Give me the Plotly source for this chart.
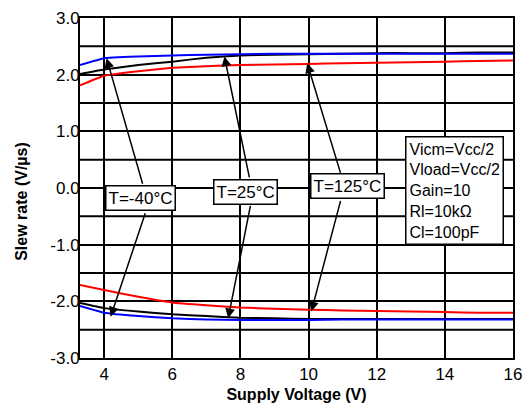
import plotly.graph_objects as go

# Supply voltage sample points (V)
vcc = [3.29, 4, 5, 6, 7, 8, 9, 10, 11, 12, 13, 14, 15, 16]

# Rising slew rate (V/us)
sr_pos_m40 = [2.17, 2.29, 2.32, 2.34, 2.35, 2.36, 2.37, 2.37, 2.37, 2.37, 2.37, 2.37, 2.37, 2.37]
sr_pos_25 = [2.01, 2.09, 2.17, 2.23, 2.30, 2.34, 2.35, 2.36, 2.37, 2.38, 2.38, 2.38, 2.39, 2.39]
sr_pos_125 = [1.81, 1.98, 2.06, 2.12, 2.15, 2.17, 2.18, 2.19, 2.20, 2.21, 2.22, 2.23, 2.24, 2.25]

# Falling slew rate (V/us)
sr_neg_m40 = [-2.08, -2.20, -2.26, -2.30, -2.32, -2.33, -2.33, -2.33, -2.32, -2.32, -2.32, -2.32, -2.32, -2.32]
sr_neg_25 = [-2.03, -2.12, -2.18, -2.23, -2.26, -2.29, -2.30, -2.31, -2.31, -2.31, -2.31, -2.31, -2.31, -2.31]
sr_neg_125 = [-1.71, -1.80, -1.92, -2.02, -2.07, -2.11, -2.13, -2.15, -2.16, -2.17, -2.18, -2.19, -2.20, -2.20]

x_ticks = [4, 6, 8, 10, 12, 14, 16]
y_ticks = [-3.0, -2.0, -1.0, 0.0, 1.0, 2.0, 3.0]
y_ticktext = ["-3.0", "-2.0", "-1.0", "0.0", "1.0", "2.0", "3.0"]
y_half_grid = [-2.5, -1.5, -0.5, 0.5, 1.5, 2.5]

conditions = ["Vicm=Vcc/2", "Vload=Vcc/2", "Gain=10", "Rl=10kΩ", "Cl=100pF"]

FONT = "Liberation Sans, Arial, Helvetica, sans-serif"

fig = go.Figure()

series = [
    (sr_pos_125, "red"), (sr_neg_125, "red"),
    (sr_pos_25, "black"), (sr_neg_25, "black"),
    (sr_pos_m40, "blue"), (sr_neg_m40, "blue"),
]
for ys, col in series:
    fig.add_trace(go.Scatter(x=vcc, y=ys, mode="lines",
                             line=dict(color=col, width=2, shape="spline", smoothing=0.3),
                             showlegend=False, hoverinfo="skip"))

# intermediate horizontal grid lines every 0.5 V/us
for yv in y_half_grid:
    fig.add_hline(y=yv, line=dict(color="black", width=2), layer="below")

annotations = []

# Temperature labels with two arrows each (to rising and falling curves)
labels = [
    ("T=-40°C", 5.08, -0.18, [(5.14, 0.05, 4.07, 2.29), (5.22, -0.42, 4.19, -2.27)]),
    ("T=25°C", 8.15, -0.07, [(8.27, 0.16, 7.53, 2.32), (8.30, -0.29, 7.64, -2.30)]),
    ("T=125°C", 11.15, 0.03, [(10.95, 0.24, 9.96, 2.20), (10.95, -0.20, 10.08, -2.18)]),
]
for text, lx, ly, arrows in labels:
    for tx, ty, hx, hy in arrows:
        annotations.append(dict(x=hx, y=hy, ax=tx, ay=ty, xref="x", yref="y",
                                axref="x", ayref="y", text="", showarrow=True,
                                arrowhead=2, arrowsize=1.3, arrowwidth=1.5,
                                arrowcolor="black", standoff=0, startstandoff=0))
    annotations.append(dict(x=lx, y=ly, xref="x", yref="y", text=text, showarrow=False,
                            font=dict(family=FONT, size=17, color="black"),
                            bgcolor="white", bordercolor="black", borderwidth=1.5,
                            borderpad=2))

# Test-condition box
annotations.append(dict(x=14.28, y=-0.05, xref="x", yref="y",
                        text="<br>".join(conditions), align="left", showarrow=False,
                        font=dict(family=FONT, size=16, color="black"),
                        bgcolor="white", bordercolor="black", borderwidth=1.5,
                        borderpad=3))

# Y axis title
annotations.append(dict(x=-0.16, y=0.46, xref="paper", yref="paper",
                        text="<b>Slew rate (V/µs)</b>", textangle=-90, showarrow=False,
                        font=dict(family=FONT, size=16, color="black")))

fig.update_layout(
    width=530, height=407,
    margin=dict(l=80, r=17, t=18, b=49),
    paper_bgcolor="white", plot_bgcolor="white",
    font=dict(family=FONT, size=17, color="black"),
    annotations=annotations,
    xaxis=dict(range=[3.29, 16], tickvals=x_ticks, ticktext=[str(v) for v in x_ticks],
               showgrid=True, gridcolor="black", gridwidth=2,
               showline=True, linecolor="black", linewidth=2, mirror=True,
               zeroline=False, ticks="", ticklabelstandoff=0, automargin=False,
               title=dict(text="<b>Supply Voltage (V)</b>", standoff=5,
                          font=dict(family=FONT, size=16, color="black"))),
    yaxis=dict(range=[-3, 3], tickvals=y_ticks, ticktext=y_ticktext,
               showgrid=True, gridcolor="black", gridwidth=2,
               showline=True, linecolor="black", linewidth=2, mirror=True,
               zeroline=False, ticks="", ticklabelstandoff=-5, automargin=False),
)

fig.write_html("out.html")
